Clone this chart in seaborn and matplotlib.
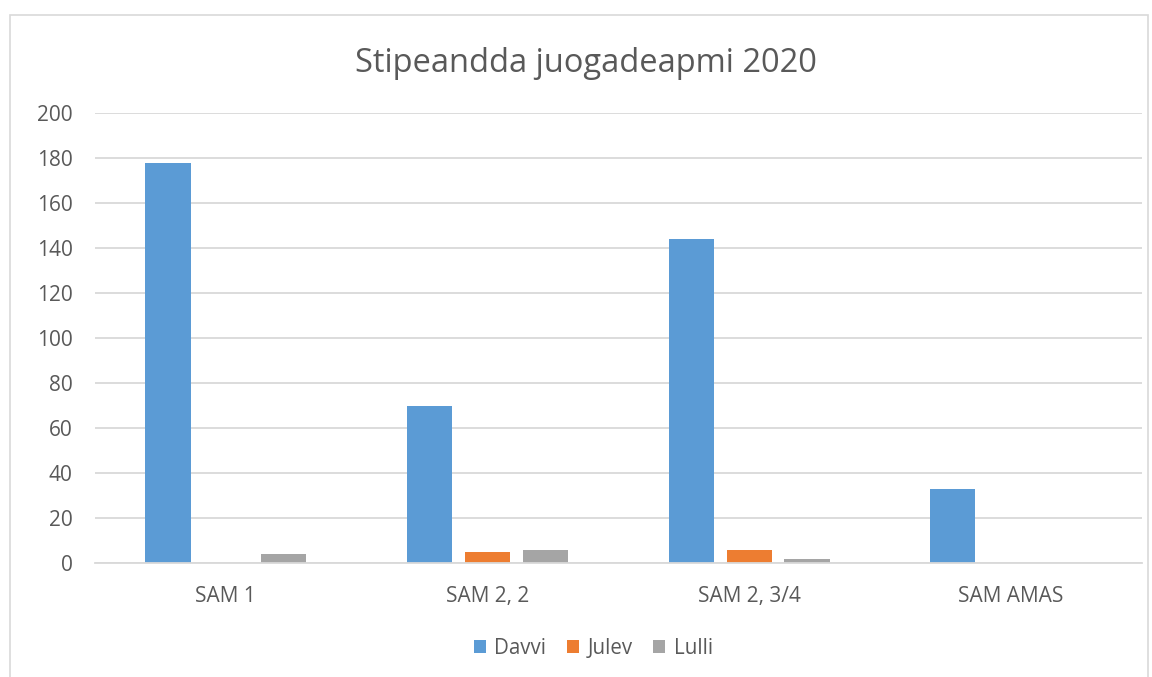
import pandas as pd
import matplotlib
matplotlib.use("Agg")
import matplotlib.pyplot as plt
import seaborn as sns

# Data
categories = ["SAM 1", "SAM 2, 2", "SAM 2, 3/4", "SAM AMAS"]
davvi = [178, 70, 144, 33]
julev = [0, 5, 6, 0]
lulli = [4, 6, 2, 0]
series = ["Davvi", "Julev", "Lulli"]
colors = ["#5B9BD5", "#ED7D31", "#A5A5A5"]

rows = []
for name, vals in zip(series, [davvi, julev, lulli]):
    for cat, v in zip(categories, vals):
        rows.append({"category": cat, "series": name, "value": v})
df = pd.DataFrame(rows)

sns.set_style("white")
plt.rcParams["font.family"] = ["Open Sans", "DejaVu Sans"]

fig = plt.figure(figsize=(11.52, 6.77), dpi=100)
ax = fig.add_axes([0.0825, 0.1677, 0.9085, 0.6653])

sns.barplot(data=df, x="category", y="value", hue="series", palette=colors,
            width=0.664, gap=0.22, ax=ax, saturation=1, legend=True,
            linewidth=0)

ax.set_ylim(0, 200)
ax.set_yticks(range(0, 201, 20))
ax.set_xlim(-0.5, 3.5)
ax.yaxis.grid(True, color="#D9D9D9", linewidth=1.3)
ax.set_axisbelow(True)
for s in ["top", "right", "left"]:
    ax.spines[s].set_visible(False)
ax.spines["bottom"].set_color("#D9D9D9")
ax.spines["bottom"].set_linewidth(1.3)
ax.tick_params(axis="both", length=0, colors="#595959", labelsize=15)
ax.tick_params(axis="x", pad=16)
ax.tick_params(axis="y", pad=16)
ax.set_xlabel("")
ax.set_ylabel("")

fig.text(0.509, 0.906, "Stipeandda juogadeapmi 2020", ha="center", va="center",
         fontsize=23.5, color="#595959")

handles, labels = ax.get_legend_handles_labels()
ax.legend_.remove()
fig.legend(handles, labels, loc="center", bbox_to_anchor=(0.515, 0.042), ncol=3,
           frameon=False, fontsize=14.8, labelcolor="#595959",
           handlelength=0.6, handleheight=0.6, handletextpad=0.4, columnspacing=1.0)

# light frame around the chart area
frame = plt.Rectangle((10 / 1152, -0.01), 1138 / 1152, 1 - 15 / 677 + 0.01,
                      transform=fig.transFigure, fill=False,
                      edgecolor="#D9D9D9", linewidth=1.2)
fig.add_artist(frame)

fig.savefig("out.png", dpi=100)
